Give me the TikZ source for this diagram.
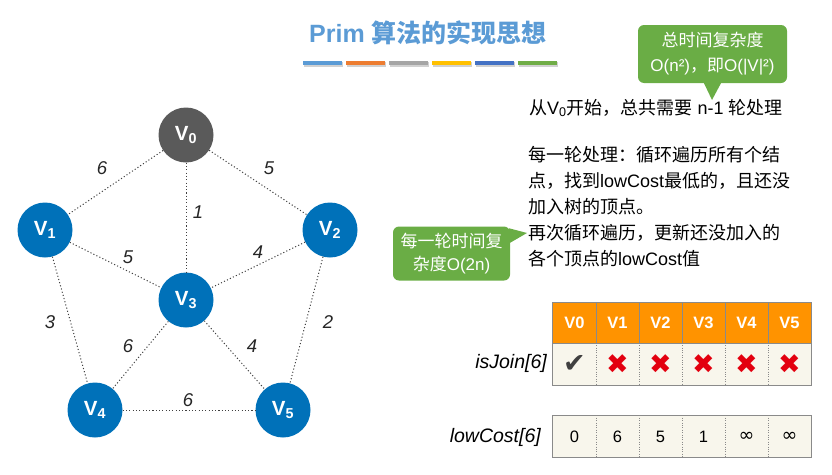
\documentclass[tikz,border=0pt]{standalone}
\usepackage{fontspec}
\setmainfont{Liberation Sans}
\newfontfamily\cjk{Noto Sans CJK SC}
\newfontfamily\symf{DejaVu Sans}
\usepackage{xcolor}
\definecolor{azulTitulo}{HTML}{5B9BD5}
\definecolor{azulNodo}{HTML}{0071B9}
\definecolor{grisNodo}{HTML}{5A5A5A}
\definecolor{grisArista}{HTML}{404040}
\definecolor{verdeNota}{HTML}{6AAD45}
\definecolor{naranjaTabla}{HTML}{FF9300}
\definecolor{cremaTabla}{HTML}{F8F6EC}
\definecolor{rojoCruz}{HTML}{E3000F}
\definecolor{grisBorde}{HTML}{8A8A8A}
\definecolor{naranjaBarra}{HTML}{ED7D31}
\definecolor{grisBarra}{HTML}{A5A5A5}
\definecolor{oroBarra}{HTML}{FFC000}
\definecolor{azulBarra}{HTML}{4472C4}
\definecolor{verdeBarra}{HTML}{70AD47}
\newcommand\chk{{\symf\fontsize{27}{27}\selectfont\color{grisArista}✔}}
\newcommand\crs{{\symf\fontsize{27}{27}\selectfont\color{rojoCruz}✖}}
\newcommand\inft{{\symf\fontsize{19}{19}\selectfont ∞}}
\usepackage{tikz}
\usetikzlibrary{calc}

\begin{document}
\begin{tikzpicture}[x=1pt,y=-1pt,
 vert/.style={circle,fill=azulNodo,text=white,minimum size=55pt,inner sep=0pt,
 font=\fontsize{20.5}{20.5}\selectfont\bfseries},
 edge/.style={draw=grisArista,line width=1pt,dash pattern=on 1.1pt off 2.2pt},
 wt/.style={font=\fontsize{18.5}{18.5}\selectfont\itshape,text=black!85,inner sep=0pt},
 nota/.style={fill=verdeNota,rounded corners=6pt,text=white,align=center,inner sep=0pt,
 font=\fontsize{17}{25}\selectfont\cjk},
 hcell/.style={fill=naranjaTabla,text=white,minimum width=43pt,minimum height=40pt,
 inner sep=0pt,font=\fontsize{16.5}{16.5}\selectfont\bfseries},
 bcell/.style={fill=cremaTabla,minimum width=43pt,minimum height=42pt,inner sep=0pt,
 font=\fontsize{16.5}{16.5}\selectfont},
 sep/.style={draw=grisBorde,line width=.6pt,dash pattern=on .8pt off 1.6pt},
 borde/.style={draw=grisBorde,line width=1.3pt},
 lbl/.style={anchor=east,inner sep=0pt,font=\fontsize{19.5}{19.5}\selectfont\itshape}]
 \useasboundingbox (0,0) rectangle (832,474);
 \node[font=\fontsize{25}{25}\selectfont\bfseries,text=azulTitulo] (titulo) at (428,33)
 {Prim {\cjk 算法的实现思想}};
 \foreach \c [count=\k from 0] in {azulTitulo,naranjaBarra,grisBarra,oroBarra,azulBarra,verdeBarra} {
 \fill[black!18] ({304+43*\k},62) rectangle ++(39,4.5);
 \fill[\c] ({303+43*\k},61) rectangle ++(39,4);
 }
 \node[nota,minimum width=149pt,minimum height=58pt] (notaA) at (712.5,54)
 {总时间复杂度\\{\rmfamily O(n²)}，即{\rmfamily O(|V|²)}};
 \coordinate (puntaA) at (712,100);
 \fill[verdeNota] ($(notaA.south)+(-9,-1)$) -- (puntaA) -- ($(notaA.south)+(9,-1)$) -- cycle;
 \node[nota,minimum width=117pt,minimum height=54pt,font=\fontsize{17}{23}\selectfont\cjk] (notaB) at (451.5,253.5)
 {每一轮时间复\\杂度{\rmfamily O(2n)}};
 \coordinate (puntaB) at (527,233);
 \fill[verdeNota] ($(notaB.north east)+(-1,2)$) -- (puntaB) -- ($(notaB.north east)+(-1,17)$) -- cycle;
 \node[anchor=west,inner sep=0pt,font=\fontsize{18}{18}\selectfont] (inicio) at (529,108)
 {{\cjk 从}V\textsubscript{0}{\cjk 开始，总共需要} n-1 {\cjk 轮处理}};
 \node[anchor=north west,align=left,inner sep=0pt,font=\fontsize{18}{26}\selectfont\cjk] (pasos) at (528,146)
 {每一轮处理：循环遍历所有个结\\点，找到{\rmfamily lowCost}最低的，且还没\\加入树的顶点。\\
 再次循环遍历，更新还没加入的\\各个顶点的{\rmfamily lowCost}值};
 \node[vert,fill=grisNodo] (v0) at (186,135) {V\textsubscript{0}};
 \node[vert] (v1) at (45,230) {V\textsubscript{1}};
 \node[vert] (v2) at (330,230) {V\textsubscript{2}};
 \node[vert] (v3) at (186,300) {V\textsubscript{3}};
 \node[vert] (v4) at (95,410) {V\textsubscript{4}};
 \node[vert] (v5) at (283,410) {V\textsubscript{5}};
 \draw[edge] (v0) -- (v1);
 \draw[edge] (v0) -- (v2);
 \draw[edge] (v0) -- (v3);
 \draw[edge] (v1) -- (v3);
 \draw[edge] (v2) -- (v3);
 \draw[edge] (v1) -- (v4);
 \draw[edge] (v2) -- (v5);
 \draw[edge] (v3) -- (v4);
 \draw[edge] (v3) -- (v5);
 \draw[edge] (v4) -- (v5);
 \node[wt] (w01) at (102,168) {6};
 \node[wt] (w02) at (269,168) {5};
 \node[wt] (w03) at (198,212) {1};
 \node[wt] (w13) at (128,257) {5};
 \node[wt] (w23) at (258,252) {4};
 \node[wt] (w14) at (50,322) {3};
 \node[wt] (w25) at (328,322) {2};
 \node[wt] (w34) at (128,346) {6};
 \node[wt] (w35) at (252,346) {4};
 \node[wt] (w45) at (188,400) {6};
 \foreach \i/\marca/\costo in {0/\chk/0,1/\crs/6,2/\crs/5,3/\crs/1,4/\crs/\inft,5/\crs/\inft} {
 \node[hcell] (h\i) at ({574.5+43*\i},323) {V\i};
 \node[bcell] (j\i) at ({574.5+43*\i},364) {\marca};
 \node[bcell] (c\i) at ({574.5+43*\i},436.5) {\costo};
 }
 \foreach \i in {0,...,4} {
 \draw[grisBorde,line width=.6pt] (h\i.north east) -- (h\i.south east);
 \draw[sep] (j\i.north east) -- (j\i.south east);
 \draw[sep] (c\i.north east) -- (c\i.south east);
 }
 \draw[borde] (h0.north west) rectangle (j5.south east);
 \draw[borde] (h0.south west) -- (h5.south east);
 \draw[borde] (c0.north west) rectangle (c5.south east);
 \node[lbl] (isjoin) at (547,363) {isJoin[6]};
 \node[lbl] (lowcost) at (541,437) {lowCost[6]};
\end{tikzpicture}
\end{document}
